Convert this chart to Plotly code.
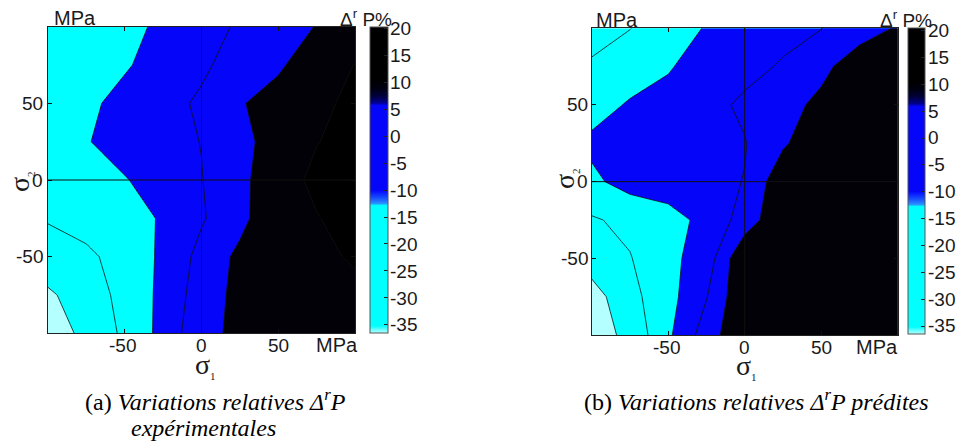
import plotly.graph_objects as go

W, H = 962, 446

# ---------------- data ----------------
sigma1 = [-100, -75, -50, -25, 0, 25, 50, 75, 100]
sigma2 = [-100, -75, -50, -25, 0, 25, 50, 75, 100]

# (a) experimental relative variations (rows: sigma2 from -100 to 100)
z_exp = [
    [-38.0, -33.6, -22.9, -12.0, 2.6, 6.9, 10.0, 12.0, 13.0],
    [-36.0, -31.8, -21.0, -12.9, 0.3, 7.6, 11.0, 13.0, 14.0],
    [-31.0, -26.5, -22.0, -13.0, -2.0, 7.3, 13.0, 14.0, 15.5],
    [-24.0, -22.0, -19.0, -14.0, -6.0, 2.0, 13.5, 14.7, 17.5],
    [-22.0, -19.0, -15.5, -11.3, -5.3, 2.2, 12.2, 16.4, 18.0],
    [-19.0, -15.5, -11.5, -8.0, -4.8, 2.0, 9.5, 14.8, 17.0],
    [-20.0, -17.0, -12.0, -9.0, -3.2, 4.0, 10.3, 14.0, 16.0],
    [-20.0, -18.0, -16.0, -11.0, -7.0, 0.0, 3.0, 13.0, 15.1],
    [-22.0, -20.0, -18.0, -13.0, -8.0, -4.0, -1.0, 5.5, 12.0],
]

# (b) predicted relative variations
z_pred = [
    [-40.0, -32.3, -16.8, -0.1, 14.0, 14.0, 14.0, 14.0, 14.0],
    [-39.3, -28.0, -18.5, -5.5, 14.0, 14.0, 14.0, 14.0, 14.0],
    [-30.0, -25.5, -17.5, -10.5, 14.5, 14.0, 14.0, 14.0, 14.0],
    [-26.0, -22.7, -19.0, -12.0, -1.0, 14.0, 14.0, 14.0, 14.0],
    [-17.0, -11.2, -9.5, -8.0, -4.7, 12.3, 13.0, 14.0, 14.0],
    [-13.0, -12.0, -11.0, -9.0, -5.5, 3.5, 12.9, 13.5, 14.0],
    [-19.0, -14.0, -11.0, -8.2, -3.2, 1.0, 7.7, 12.0, 14.0],
    [-24.0, -20.0, -16.0, -9.7, -8.0, -4.0, 2.0, 11.4, 13.0],
    [-28.0, -25.2, -20.0, -14.3, -11.0, -8.0, -5.2, 0.0, 6.0],
]

levels_start, levels_end, levels_step = -35, 15, 10
cbar_ticks = [20, 15, 10, 5, 0, -5, -10, -15, -20, -25, -30, -35]
cbar_min, cbar_max = -36.5, 20.4
axis_ticks = [-50, 0, 50]
axis_ticktext = ["-50", "0", "50"]

# ---------------- styling ----------------
LCYAN = "#b4ffff"
CYAN = "#00ffff"
BLUE = "#0505fa"
DARK = "#010107"
BLACK = "#000000"

# band colours (plotly maps the colourscale onto band centres)
fill_scale = [
    [0.0, LCYAN], [0.08, LCYAN],
    [0.09, CYAN], [0.42, CYAN],
    [0.43, BLUE], [0.75, BLUE],
    [0.76, DARK], [0.92, DARK],
    [0.93, BLACK], [1.0, BLACK],
]


def t(v):
    return (v - cbar_min) / (cbar_max - cbar_min)


bar_scale = [
    [0.0, LCYAN], [t(-35.8), "#60ffff"], [t(-35.2), CYAN],
    [t(-12.8), CYAN], [t(-12.4), "#2a90ff"], [t(-11.5), "#1a55ff"],
    [t(-10.5), "#0a20ff"], [t(-10.0), BLUE], [t(5.8), BLUE],
    [t(6.3), "#000090"], [t(7.5), "#000040"], [t(9.0), "#000010"],
    [t(10.5), BLACK], [1.0, BLACK],
]

SANS = "Liberation Sans, Arial, sans-serif"
SERIF = "Liberation Serif, Times New Roman, serif"
TXT = "#1a1a1a"


def px(x, y):
    return x / W, 1 - y / H


fig = go.Figure()

panels = [
    # z, axis suffix, plot box (l, r, top, bottom) px, colourbar (l, r, top, bottom) px,
    # colourbar label x, x-tick label y, y-tick label right edge
    (z_exp, "", (48, 355, 26.7, 333.3), (370, 387.7, 26.7, 333), 389, 345, 44),
    (z_pred, "2", (591.7, 897.7, 28.3, 335), (908.3, 925, 28.3, 334), 926.5, 347, 588.5),
]

for z, sfx, box, cb, lx, xty, ytx in panels:
    xa = "x" + sfx
    ya = "y" + sfx
    fig.add_trace(go.Contour(
        x=sigma1, y=sigma2, z=z,
        autocontour=False,
        contours=dict(start=levels_start, end=levels_end, size=levels_step,
                      coloring="fill", showlines=True),
        line=dict(color="#111111", width=0.8, smoothing=0),
        colorscale=fill_scale, showscale=False,
        hoverinfo="skip", xaxis=xa, yaxis=ya,
    ))
    l, r, tp, bt = cb
    fig.add_trace(go.Scatter(
        x=[0], y=[0], mode="markers", opacity=0, hoverinfo="skip", showlegend=False,
        xaxis=xa, yaxis=ya,
        marker=dict(size=1, color=[0], cmin=cbar_min, cmax=cbar_max,
                    colorscale=bar_scale, showscale=True,
                    colorbar=dict(
                        thickness=r - l, thicknessmode="pixels",
                        len=(bt - tp) / H, lenmode="fraction",
                        x=l / W, xanchor="left", y=1 - tp / H, yanchor="top",
                        xpad=0, ypad=0, outlinewidth=1, outlinecolor="#555555",
                        ticks="inside", ticklen=4, tickcolor="#222222",
                        tickvals=cbar_ticks, showticklabels=False,
                    )),
    ))

axis_common = dict(
    range=[-100, 100], tickvals=axis_ticks, ticks="inside", ticklen=4,
    tickcolor="#111111", showline=True, linecolor="#222222", linewidth=1,
    mirror="allticks", showgrid=False, zeroline=False, showticklabels=False,
)

lay = dict(
    width=W, height=H, margin=dict(l=0, r=0, t=0, b=0),
    paper_bgcolor="white", plot_bgcolor="white", showlegend=False,
)
for z, sfx, box, cb, lx, xty, ytx in panels:
    l, r, tp, bt = box
    lay["xaxis" + sfx] = dict(axis_common, domain=[l / W, r / W], anchor="y" + sfx)
    lay["yaxis" + sfx] = dict(axis_common, domain=[1 - bt / H, 1 - tp / H], anchor="x" + sfx)
fig.update_layout(**lay)

# cross lines at sigma = 0
shapes = []
for sfx in ["", "2"]:
    shapes.append(dict(type="line", xref="x" + sfx, yref="y" + sfx, x0=0, x1=0,
                       y0=-100, y1=100, line=dict(color="#111111", width=1), layer="above"))
    shapes.append(dict(type="line", xref="x" + sfx, yref="y" + sfx, x0=-100, x1=100,
                       y0=0, y1=0, line=dict(color="#111111", width=1), layer="above"))
fig.update_layout(shapes=shapes)


def ann(x, y, text, size, family=SANS, xanchor="center", angle=0, color=TXT):
    xx, yy = px(x, y)
    fig.add_annotation(x=xx, y=yy, xref="paper", yref="paper", text=text,
                       showarrow=False, xanchor=xanchor, yanchor="middle",
                       textangle=angle, borderpad=0,
                       font=dict(family=family, size=size, color=color))


for z, sfx, box, cb, lx, xty, ytx in panels:
    # axis tick labels, placed on the axes' own scale
    for v, s in zip(axis_ticks, axis_ticktext):
        fig.add_annotation(x=v, xref="x" + sfx, y=1 - xty / H, yref="paper", text=s,
                           showarrow=False, xanchor="center", yanchor="middle",
                           xshift=-2 if v < 0 else 0, borderpad=0,
                           font=dict(family=SANS, size=19, color=TXT))
        fig.add_annotation(x=ytx / W, xref="paper", y=v, yref="y" + sfx, text=s,
                           showarrow=False, xanchor="right", yanchor="middle",
                           borderpad=0, font=dict(family=SANS, size=19, color=TXT))
    # colourbar tick labels
    l, r, tp, bt = cb
    for v in cbar_ticks:
        yv = tp + (cbar_max - v) / (cbar_max - cbar_min) * (bt - tp)
        ann(lx, yv, str(v), 19, xanchor="left")

# units
ann(74.5, 17.5, "MPa", 20)
ann(336.7, 345, "MPa", 20)
ann(616.7, 20.5, "MPa", 20)
ann(876.5, 346.5, "MPa", 20)
# colourbar titles
ann(366, 18, "Δ<sup>r</sup> P%", 19)
ann(905.5, 19, "Δ<sup>r</sup> P%", 19)
# axis symbols
SUB1 = "σ<sub><span style='font-size:11px'>1</span></sub>"
SUB2 = "σ<sub><span style='font-size:11px'>2</span></sub>"
ann(205, 365, SUB1, 28, SERIF)
ann(746, 366, SUB1, 28, SERIF)
ann(20, 182, SUB2, 28, SERIF, angle=-90)
ann(566, 179, SUB2, 28, SERIF, angle=-90)
# captions
fig.add_annotation(x=84 / W, y=1 - 400 / H, xref="paper", yref="paper",
                   text="(a) <i>Variations relatives Δ<sup>r</sup>P</i>",
                   showarrow=False, xanchor="left", yanchor="middle", borderpad=0,
                   font=dict(family=SERIF, size=24, color="black"))
ann(203, 428, "<i>expérimentales</i>", 24, SERIF, color="black")
ann(756, 400, "(b) <i>Variations relatives Δ<sup>r</sup>P prédites</i>", 24, SERIF, color="black")

fig.write_html(
    "out.html",
    config={"displayModeBar": False},
    post_script="document.body.style.margin='0';document.body.style.overflow='hidden';",
)
